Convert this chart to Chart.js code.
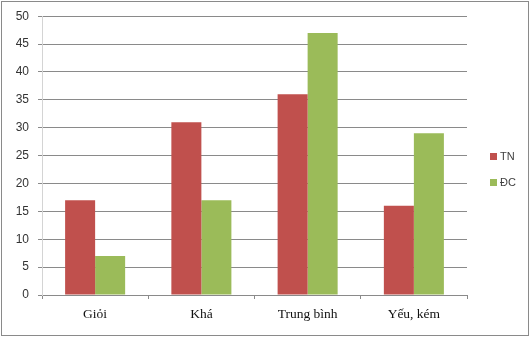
<!DOCTYPE html>
<html>
<head>
<meta charset="utf-8">
<script src="https://cdn.jsdelivr.net/npm/chart.js@4/dist/chart.umd.min.js"></script>
<style>
html,body{margin:0;padding:0;background:#fff;}
#wrap{width:529px;height:337px;position:relative;}
</style>
</head>
<body>
<div id="wrap"><canvas id="c" width="529" height="337"></canvas></div>
<script>
const categories = ['Giỏi', 'Khá', 'Trung bình', 'Yếu, kém'];
const seriesTN = [17, 31, 36, 16];
const seriesDC = [7, 17, 47, 29];
const seriesNames = ['TN', 'ĐC'];
const yTicks = [0, 5, 10, 15, 20, 25, 30, 35, 40, 45, 50];

const borderPlugin = {
  id: 'outerBorder',
  beforeDraw(chart) {
    const ctx = chart.ctx;
    ctx.save();
    ctx.fillStyle = '#ffffff';
    ctx.fillRect(0, 0, chart.width, chart.height);
    ctx.restore();
  },
  afterDraw(chart) {
    const ctx = chart.ctx;
    ctx.save();
    ctx.strokeStyle = '#8a8a8a';
    ctx.lineWidth = 1;
    ctx.strokeRect(1.5, 1.5, 527, 334);
    ctx.restore();
  }
};

const legendPlugin = {
  id: 'sideLegend',
  afterDraw(chart) {
    const ctx = chart.ctx;
    ctx.save();
    ctx.font = '11px "Liberation Sans", Arial, sans-serif';
    ctx.textBaseline = 'middle';
    ctx.textAlign = 'left';
    chart.data.datasets.forEach((ds, i) => {
      const y = 156.5 + i * 25.5;
      ctx.fillStyle = ds.backgroundColor;
      ctx.fillRect(490, Math.round(y - 3.5), 7, 7);
      ctx.fillStyle = '#404040';
      ctx.fillText(ds.label, 500, y + 0.5);
    });
    ctx.restore();
  }
};

new Chart(document.getElementById('c'), {
  type: 'bar',
  data: {
    labels: categories,
    datasets: [
      { label: seriesNames[0], data: seriesTN, backgroundColor: '#C0504D' },
      { label: seriesNames[1], data: seriesDC, backgroundColor: '#9BBB59' }
    ]
  },
  options: {
    responsive: false,
    animation: false,
    devicePixelRatio: 1,
    layout: { padding: { left: 0, right: 62, top: 15, bottom: 0 } },
    datasets: { bar: { categoryPercentage: 0.565, barPercentage: 1.0 } },
    plugins: { legend: { display: false }, tooltip: { enabled: false } },
    scales: {
      x: {
        afterFit(scale) { scale.height = 42; },
        grid: { display: true, drawOnChartArea: false, drawTicks: true, tickLength: 4, color: '#8a8a8a', offset: true },
        border: { display: true, color: '#8a8a8a' },
        ticks: { padding: 7, color: '#111', font: { family: '"Liberation Serif", "Times New Roman", serif', size: 13.5 } }
      },
      y: {
        min: 0, max: 50,
        afterFit(scale) { scale.width = 42; },
        afterBuildTicks(scale) { scale.ticks = yTicks.map(v => ({ value: v })); },
        grid: { color: '#8a8a8a', tickLength: 4, drawTicks: true },
        border: { display: true, color: '#d4d4d4' },
        ticks: { padding: 9, color: '#333', font: { family: '"Liberation Sans", Arial, sans-serif', size: 12 } }
      }
    }
  },
  plugins: [borderPlugin, legendPlugin]
});
</script>
</body>
</html>
